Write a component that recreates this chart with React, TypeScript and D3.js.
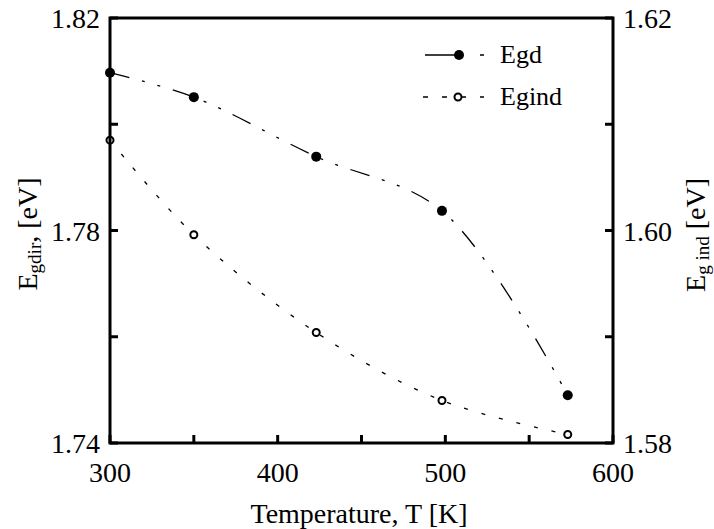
import React from "react";
import * as d3 from "d3";

const temps = [300, 350, 423, 498, 573];
const egd = [1.8097, 1.8051, 1.7939, 1.7837, 1.749];
const egind = [1.6085, 1.5996, 1.5904, 1.584, 1.5808];
const xTicks = [300, 350, 400, 450, 500, 550, 600];
const xLabels = [300, 400, 500, 600];
const yLeftTicks = [1.74, 1.76, 1.78, 1.8, 1.82];
const yLeftLabels = [1.74, 1.78, 1.82];
const yRightTicks = [1.58, 1.59, 1.6, 1.61, 1.62];
const yRightLabels = [1.58, 1.6, 1.62];

const W = 714, H = 529;
const L = 110, R = 613, T = 18, B = 443;
const ff = "'Liberation Serif', 'DejaVu Serif', serif";
const FS = 28;

export default function App() {
  const x = d3.scaleLinear().domain([300, 600]).range([L, R]);
  const yL = d3.scaleLinear().domain([1.74, 1.82]).range([B, T]);
  const yR = d3.scaleLinear().domain([1.58, 1.62]).range([B, T]);
  const lineD = d3.line<number>().x((_, i) => x(temps[i])).y((v) => yL(v)).curve(d3.curveCatmullRom.alpha(0.5));
  const lineI = d3.line<number>().x((_, i) => x(temps[i])).y((v) => yR(v)).curve(d3.curveCatmullRom.alpha(0.5));
  const egdDash = "20 13 3 13 3 13";
  const egiDash = "4 14";
  return (
    <svg width={W} height={H} style={{ position: "absolute", left: 0, top: 0, background: "#fff", fontFamily: ff }}>
      <path d={lineD(egd) || ""} fill="none" stroke="#000" strokeWidth={1.3} strokeDasharray={egdDash} />
      <path d={lineI(egind) || ""} fill="none" stroke="#000" strokeWidth={1.3} strokeDasharray={egiDash} />
      {egd.map((v, i) => (
        <circle key={"d" + i} cx={x(temps[i])} cy={yL(v)} r={5} fill="#000" />
      ))}
      {egind.map((v, i) => (
        <circle key={"i" + i} cx={x(temps[i])} cy={yR(v)} r={3.5} fill="#fff" stroke="#000" strokeWidth={2} />
      ))}
      <rect x={L} y={T} width={R - L} height={B - T} fill="none" stroke="#000" strokeWidth={3} />
      {xTicks.map((t) => (
        <line key={"xt" + t} x1={x(t)} x2={x(t)} y1={B} y2={B - 8} stroke="#000" strokeWidth={3} />
      ))}
      {yLeftTicks.map((t) => (
        <line key={"yl" + t} x1={L} x2={L + 8} y1={yL(t)} y2={yL(t)} stroke="#000" strokeWidth={3} />
      ))}
      {yRightTicks.map((t) => (
        <line key={"yr" + t} x1={R} x2={R - 8} y1={yR(t)} y2={yR(t)} stroke="#000" strokeWidth={3} />
      ))}
      {xLabels.map((t) => (
        <text key={"xl" + t} x={x(t)} y={482} fontSize={FS} textAnchor="middle">{t}</text>
      ))}
      {yLeftLabels.map((t) => (
        <text key={"ll" + t} x={L - 10} y={yL(t) + 10} fontSize={FS} textAnchor="end">{t.toFixed(2)}</text>
      ))}
      {yRightLabels.map((t) => (
        <text key={"rl" + t} x={R + 10} y={yR(t) + 10} fontSize={FS} textAnchor="start">{t.toFixed(2)}</text>
      ))}
      <text x={359} y={523} fontSize={FS} textAnchor="middle">Temperature, T [K]</text>
      <text transform={`translate(37,234) rotate(-90)`} fontSize={FS} textAnchor="middle">
        E<tspan fontSize={19} dy={4}>gdir</tspan><tspan dy={-4}>, [eV]</tspan>
      </text>
      <text transform={`translate(705,235) rotate(-90)`} fontSize={FS} textAnchor="middle">
        E<tspan fontSize={19} dy={4}>g ind</tspan><tspan dy={-4}> [eV]</tspan>
      </text>
      <line x1={425} x2={484} y1={55} y2={55} stroke="#000" strokeWidth={1.3} strokeDasharray="30 25 4 100" />
      <circle cx={459} cy={55} r={5} fill="#000" />
      <text x={500} y={63} fontSize={26}>Egd</text>
      <line x1={423} x2={484} y1={97} y2={97} stroke="#000" strokeWidth={1.3} strokeDasharray="5 14" />
      <circle cx={458} cy={97} r={3.5} fill="#fff" stroke="#000" strokeWidth={2} />
      <text x={500} y={105} fontSize={26}>Egind</text>
    </svg>
  );
}
